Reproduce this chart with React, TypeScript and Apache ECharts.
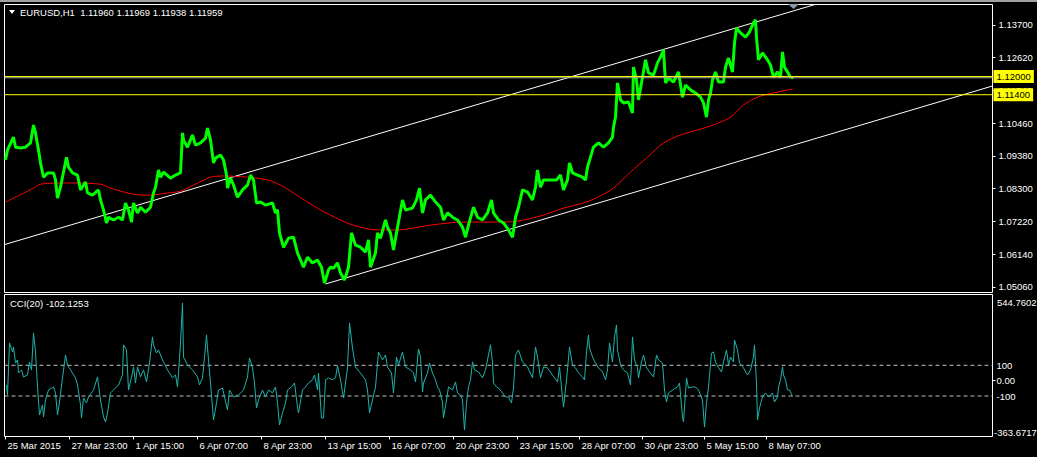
import React, { useEffect, useRef } from "react";
import * as echarts from "echarts";

// ---- Data (bar index = hourly bar position from 25 Mar 2015) ----
const priceIdx = [0,2,8,10,15,20,25,28,30,33,35,38,42,48,50,52,55,58,61,63,67,72,75,80,82,87,93,95,98,101,103,108,113,117,120,123,126,128,132,135,140,145,148,150,153,155,158,165,170,175,177,178,182,187,190,195,200,202,205,208,210,215,218,221,222,225,228,232,237,242,245,248,251,255,260,267,270,272,274,278,283,288,292,295,298,302,307,312,316,319,323,325,328,332,335,339,343,346,350,355,360,363,365,370,372,375,380,382,385,388,392,397,400,407,411,414,417,420,425,430,435,438,442,447,452,457,460,463,468,472,477,482,486,488,493,498,503,507,510,513,517,522,527,530,532,535,538,545,551,555,558,562,564,567,572,577,580,582,585,588,593,598,603,607,608,610,612,615,618,623,627,628,631,633,637,640,643,648,652,655,658,660,663,668,673,677,680,685,690,695,698,701,703,705,707,710,713,718,720,723,727,729,731,735,740,744,748,750,751,753,757,762,765,768,772,775,777,779,782,785,788];
const priceClose = [1.0925,1.0958,1.1000,1.0967,1.0964,1.0967,1.0981,1.1040,1.1014,1.0958,1.0915,1.0868,1.0882,1.0882,1.0859,1.0799,1.0835,1.0885,1.0934,1.0901,1.0882,1.0875,1.0826,1.0852,1.0816,1.0809,1.0826,1.0793,1.0760,1.0717,1.0736,1.0727,1.0736,1.0727,1.0783,1.0760,1.0720,1.0783,1.0750,1.0769,1.0753,1.0769,1.0816,1.0835,1.0892,1.0868,1.0885,1.0865,1.0875,1.0882,1.1014,1.0991,1.0967,1.1007,1.0974,1.0981,1.0997,1.1030,1.0991,1.0915,1.0931,1.0941,1.0925,1.0875,1.0832,1.0865,1.0842,1.0802,1.0826,1.0842,1.0875,1.0859,1.0783,1.0786,1.0776,1.0783,1.0750,1.0760,1.0684,1.0637,1.0667,1.0670,1.0618,1.0595,1.0571,1.0604,1.0585,1.0595,1.0571,1.0519,1.0562,1.0571,1.0568,1.0585,1.0552,1.0529,1.0571,1.0684,1.0644,1.0637,1.0621,1.0661,1.0571,1.0618,1.0684,1.0667,1.0727,1.0703,1.0684,1.0628,1.0703,1.0793,1.0760,1.0766,1.0793,1.0832,1.0750,1.0793,1.0809,1.0786,1.0769,1.0727,1.0750,1.0736,1.0727,1.0703,1.0670,1.0710,1.0769,1.0736,1.0727,1.0750,1.0793,1.0750,1.0727,1.0717,1.0694,1.0670,1.0736,1.0769,1.0826,1.0819,1.0793,1.0835,1.0892,1.0835,1.0859,1.0859,1.0859,1.0875,1.0826,1.0859,1.0915,1.0882,1.0875,1.0868,1.0859,1.0901,1.0934,1.0967,1.0981,1.0967,1.0981,1.1000,1.1033,1.1066,1.1179,1.1123,1.1113,1.1116,1.1080,1.1231,1.1189,1.1123,1.1198,1.1255,1.1212,1.1205,1.1245,1.1264,1.1288,1.1179,1.1195,1.1182,1.1215,1.1132,1.1172,1.1156,1.1146,1.1132,1.1113,1.1066,1.1123,1.1146,1.1189,1.1215,1.1182,1.1182,1.1231,1.1261,1.1215,1.1311,1.1360,1.1344,1.1330,1.1347,1.1377,1.1387,1.1330,1.1255,1.1278,1.1255,1.1238,1.1198,1.1215,1.1198,1.1281,1.1231,1.1215,1.1198,1.1196];

const maIdx = [0,28,35,62,95,105,128,145,162,175,188,205,218,242,262,275,288,302,315,325,345,372,392,425,458,492,512,538,558,578,592,608,625,642,658,675,692,705,725,738,752,768,787];
const maValues = [1.0786,1.0832,1.0845,1.0849,1.0845,1.0832,1.0812,1.0809,1.0816,1.0822,1.0842,1.0868,1.0872,1.0868,1.0859,1.0842,1.0816,1.0786,1.0760,1.0743,1.0713,1.0694,1.0694,1.0710,1.0720,1.0720,1.0723,1.0743,1.0766,1.0783,1.0802,1.0832,1.0885,1.0934,1.0981,1.1007,1.1024,1.1037,1.1066,1.1106,1.1132,1.1146,1.1159];

const channelUpperIdx = [-1, 987];
const channelUpperVal = [1.06457, 1.16110];
const channelLowerIdx = [320, 987];
const channelLowerVal = [1.05158, 1.11688];

const cciIdx = [1,2,4,7,8,10,12,13,16,18,22,24,26,28,30,32,34,37,38,40,43,48,50,52,54,57,60,62,65,70,72,75,76,78,81,83,88,92,95,98,100,102,105,108,113,117,118,121,123,127,128,130,132,135,138,141,144,147,148,151,153,157,162,167,170,172,173,175,177,178,182,187,192,194,197,199,201,202,205,208,211,213,217,219,222,224,228,233,238,242,244,247,249,251,253,257,260,263,267,270,272,274,277,280,282,286,289,292,293,297,300,303,307,309,312,313,316,318,320,323,327,330,332,335,338,342,344,347,350,355,360,362,364,367,370,373,377,380,382,386,388,391,393,397,400,405,408,410,413,415,417,418,422,424,427,430,432,434,437,438,441,443,447,450,452,455,457,459,461,463,465,467,469,473,477,480,482,485,487,488,491,493,497,500,503,506,508,510,513,517,522,527,530,532,535,538,542,547,552,554,557,558,561,564,567,570,573,577,579,581,583,584,587,590,593,597,600,602,604,607,609,611,612,615,618,622,625,627,629,632,633,636,638,641,644,648,651,653,657,659,661,663,667,672,674,677,678,680,681,683,687,690,693,697,699,701,703,706,708,710,713,716,718,721,723,725,728,729,732,734,738,742,745,748,749,751,752,754,757,760,763,767,769,772,773,775,777,778,780,782,784,787];
const cciValues = [-28,-93,246,187,220,115,135,50,70,24,37,122,70,311,187,-41,-223,-158,-236,-126,-61,-41,-80,-223,-139,18,167,102,70,18,-28,-158,-243,-113,-145,-106,-61,24,-126,-236,-269,-210,-80,-61,-28,37,233,200,-61,50,89,-15,89,24,70,-8,115,285,233,180,200,135,70,18,37,-41,50,246,506,154,102,70,24,-28,18,154,298,213,-15,-256,-145,-61,-48,-106,-191,-61,-106,-93,-61,24,148,83,-15,-178,-126,-61,-106,-61,-80,-41,-145,-289,-210,-145,-61,-41,-15,-171,-210,-61,-41,-15,5,37,-61,50,-243,-243,5,18,5,18,96,5,-113,83,376,213,89,50,5,-61,-210,-126,-41,187,135,167,89,50,-80,154,102,187,89,70,50,-8,207,154,-74,-15,50,115,50,5,-41,-61,-139,-243,-126,-41,-61,-8,-80,-93,-126,-321,-145,-41,5,122,70,57,18,70,135,233,115,-15,-41,-48,-80,-106,-106,-145,-48,167,200,122,89,18,220,154,18,89,83,37,-8,89,-106,-171,5,220,102,83,50,24,5,187,298,213,154,115,83,57,5,70,246,122,285,363,200,102,70,50,-28,285,135,83,18,122,167,83,57,24,167,135,115,-61,-139,-80,-61,-41,-15,-236,-269,-80,18,-48,-41,-41,-61,-126,-302,-145,-41,180,187,122,83,57,122,200,102,154,122,265,200,115,83,37,70,154,233,-15,-256,-178,-106,-80,-106,-80,-139,-106,-41,5,89,37,5,-61,-61,-102];

const priceTicks = [1.0506, 1.0614, 1.0722, 1.083, 1.0938, 1.1046, 1.1154, 1.1262, 1.137];
const timeTickIdx = [0, 64, 128, 192, 256, 320, 384, 448, 512, 574, 637, 699, 761];
const timeLabels = ["25 Mar 2015", "27 Mar 23:00", "1 Apr 15:00", "6 Apr 07:00", "8 Apr 23:00", "13 Apr 15:00", "16 Apr 07:00", "20 Apr 23:00", "23 Apr 15:00", "28 Apr 07:00", "30 Apr 23:00", "5 May 15:00", "8 May 07:00"];
const cciTicks = [100, 0, -100];
const cciLevels = [100, -100];
const levelLines = [1.12, 1.114];
const bidPrice = 1.11959;
const xSpan = [-1, 987];
const titleText = "EURUSD,H1  1.11960 1.11969 1.11938 1.11959";
const cciTitle = "CCI(20) -102.1253";
const cciMaxLabel = "544.7602";
const cciMinLabel = "-363.6717";

const FONT = "Liberation Sans";
const FS = 9.5;

function pairs(xs: number[], ys: number[]) {
  return xs.map((x, i) => [x, ys[i]]);
}
function hline(v: number) {
  return xSpan.map((x) => [x, v]);
}

export default function App() {
  const ref = useRef<HTMLDivElement>(null);
  useEffect(() => {
    const chart = echarts.init(ref.current!, null, { renderer: "svg" });
    const levelSeries = levelLines.map((v) => ({
      type: "line", xAxisIndex: 0, yAxisIndex: 0, data: hline(v),
      showSymbol: false, silent: true, z: 5,
      lineStyle: { color: "#ffff00", width: 1 },
      endLabel: {
        show: true,
        formatter: () => v.toFixed(5),
        backgroundColor: "#ffff00",
        color: "#000",
        fontFamily: FONT,
        fontSize: FS,
        padding: [2, 3, 1, 3],
        distance: 1,
      },
    }));
    const cciLevelSeries = cciLevels.map((v) => ({
      type: "line", xAxisIndex: 1, yAxisIndex: 1, data: hline(v),
      showSymbol: false, silent: true, z: 2,
      lineStyle: { color: "#c0c0c0", width: 1, type: [4, 3] },
    }));
    const option: any = {
      animation: false,
      backgroundColor: "#000",
      textStyle: { fontFamily: FONT },
      grid: [
        { left: 4.5, top: 4.5, width: 988, height: 288, show: true, borderColor: "#fff", borderWidth: 1, backgroundColor: "transparent" },
        { left: 4.5, top: 294.5, width: 988, height: 142, show: true, borderColor: "#fff", borderWidth: 1, backgroundColor: "transparent" },
      ],
      xAxis: [
        { type: "value", gridIndex: 0, min: -1, max: 987, show: false },
        {
          type: "value", gridIndex: 1, min: -1, max: 987,
          axisLine: { show: false, onZero: false },
          splitLine: { show: false },
          axisTick: { show: true, customValues: timeTickIdx, length: 3, lineStyle: { color: "#fff" } },
          axisLabel: {
            customValues: timeTickIdx,
            formatter: (v: number) => timeLabels[timeTickIdx.indexOf(v)] ?? "",
            align: "left", color: "#fff", fontSize: FS, fontFamily: FONT, margin: 4, padding: [0, 0, 0, 2],
          },
        },
      ],
      yAxis: [
        {
          type: "value", gridIndex: 0, position: "right", min: 1.04877, max: 1.14376,
          splitLine: { show: false }, axisLine: { show: false, onZero: false },
          axisTick: { show: true, customValues: priceTicks, length: 3, lineStyle: { color: "#fff" } },
          axisLabel: { customValues: priceTicks, formatter: (v: number) => v.toFixed(5), color: "#fff", fontSize: FS, fontFamily: FONT, margin: 6 },
        },
        {
          type: "value", gridIndex: 1, position: "right", min: -363.6717, max: 561.2,
          splitLine: { show: false }, axisLine: { show: false, onZero: false },
          axisTick: { show: true, customValues: [0], length: 3, lineStyle: { color: "#fff" } },
          axisLabel: { customValues: cciTicks, formatter: (v: number) => (v === 0 ? "0.00" : String(v)), color: "#fff", fontSize: FS, fontFamily: FONT, margin: 4 },
        },
      ],
      series: [
        {
          type: "line", xAxisIndex: 0, yAxisIndex: 0, data: pairs(channelUpperIdx, channelUpperVal),
          showSymbol: false, lineStyle: { color: "#ffffff", width: 1 }, silent: true, z: 1,
        },
        {
          type: "line", xAxisIndex: 0, yAxisIndex: 0, data: pairs(channelLowerIdx, channelLowerVal),
          showSymbol: false, lineStyle: { color: "#ffffff", width: 1 }, silent: true, z: 1,
        },
        {
          type: "line", xAxisIndex: 0, yAxisIndex: 0, data: hline(bidPrice),
          showSymbol: false, lineStyle: { color: "#a8a8a8", width: 1 }, silent: true, z: 4,
        },
        ...levelSeries,
        {
          type: "line", xAxisIndex: 0, yAxisIndex: 0, data: pairs(maIdx, maValues),
          showSymbol: false, smooth: 0.3, lineStyle: { color: "#ff0000", width: 1 }, silent: true, z: 2,
        },
        {
          type: "line", xAxisIndex: 0, yAxisIndex: 0, data: pairs(priceIdx, priceClose),
          showSymbol: false, lineStyle: { color: "#00ff00", width: 3 }, silent: true, z: 3,
        },
        ...cciLevelSeries,
        {
          type: "line", xAxisIndex: 1, yAxisIndex: 1, data: pairs(cciIdx, cciValues),
          showSymbol: false, lineStyle: { color: "#20b2aa", width: 1 }, silent: true, z: 3,
        },
      ],
      graphic: [
        { type: "rect", shape: { x: 0, y: 0, width: 1037, height: 2 }, style: { fill: "#a0a0a0" }, silent: true },
        { type: "polygon", shape: { points: [[9, 10], [15, 10], [12, 14]] }, style: { fill: "#fff" }, silent: true },
        { type: "text", x: 20, y: 12, style: { text: titleText, fill: "#fff", font: `${FS}px "${FONT}"`, textVerticalAlign: "middle" }, silent: true },
        { type: "polygon", shape: { points: [[788, 4], [799, 4], [793.5, 9]] }, style: { fill: "#8899aa" }, silent: true, z: 10 },
        { type: "text", x: 10, y: 303, style: { text: cciTitle, fill: "#fff", font: `${FS}px "${FONT}"`, textVerticalAlign: "middle" }, silent: true },
        { type: "text", x: 997, y: 302, style: { text: cciMaxLabel, fill: "#fff", font: `${FS}px "${FONT}"`, textVerticalAlign: "middle" }, silent: true },
        { type: "text", x: 994, y: 432, style: { text: cciMinLabel, fill: "#fff", font: `${FS}px "${FONT}"`, textVerticalAlign: "middle" }, silent: true },
      ],
    };
    chart.setOption(option);
    return () => chart.dispose();
  }, []);
  return (
    <div
      ref={ref}
      style={{ position: "fixed", left: 0, top: 0, width: 1037, height: 457, background: "#000" }}
    />
  );
}
